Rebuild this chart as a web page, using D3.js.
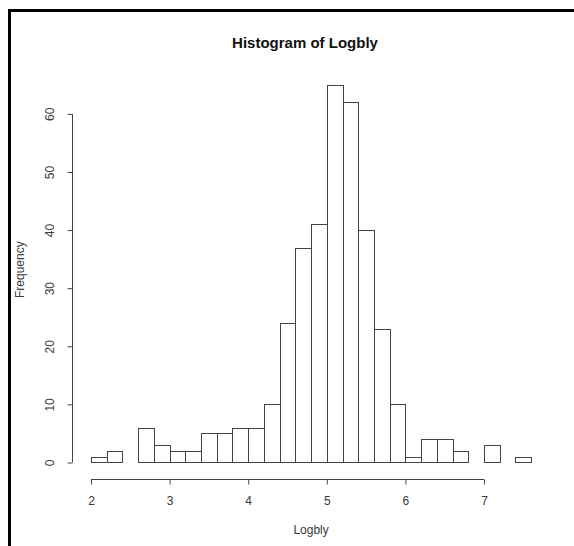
<!DOCTYPE html>
<html>
<head>
<meta charset="utf-8">
<script src="https://cdn.jsdelivr.net/npm/d3@7"></script>
<style>
  html, body { margin: 0; padding: 0; background: #fff; }
  svg { display: block; }
  text { font-family: "Liberation Sans", Arial, Helvetica, sans-serif; }
</style>
</head>
<body>
<svg id="chart" width="574" height="546"></svg>
<script>
// Histogram bin edges (left edges) and bin width
const binStarts = [2.0, 2.2, 2.4, 2.6, 2.8, 3.0, 3.2, 3.4, 3.6, 3.8, 4.0, 4.2, 4.4, 4.6,
                   4.8, 5.0, 5.2, 5.4, 5.6, 5.8, 6.0, 6.2, 6.4, 6.6, 6.8, 7.0, 7.2, 7.4];
const binWidth = 0.2;
const counts = [1, 2, 0, 6, 3, 2, 2, 5, 5, 6, 6, 10, 24, 37,
                41, 65, 62, 40, 23, 10, 1, 4, 4, 2, 0, 3, 0, 1];
const xTicks = [2, 3, 4, 5, 6, 7];
const yTicks = [0, 10, 20, 30, 40, 50, 60];
const titleText = "Histogram of Logbly";
const xLabel = "Logbly";
const yLabel = "Frequency";

const svg = d3.select("#chart");

// Plot region (R style: data range extended by 4%)
const xMin = binStarts[0], xMax = binStarts[binStarts.length - 1] + binWidth;
const xPad = (xMax - xMin) * 0.04;
const yMaxData = d3.max(counts);
const yPad = yMaxData * 0.04;
const plot = { left: 73.4, right: 548.8, top: 69.7, bottom: 477.6 };

const x = d3.scaleLinear().domain([xMin - xPad, xMax + xPad]).range([plot.left, plot.right]);
const y = d3.scaleLinear().domain([-yPad, yMaxData + yPad]).range([plot.bottom, plot.top]);

const lineColor = "#444";
const textColor = "#3a3a3a";

// Outer frame (left and top)
svg.append("rect").attr("x", 8).attr("y", 9).attr("width", 3).attr("height", 546 - 9).attr("fill", "#000");
svg.append("rect").attr("x", 8).attr("y", 9).attr("width", 574 - 8).attr("height", 3).attr("fill", "#000");

// Bars
svg.append("g").selectAll("rect")
  .data(binStarts.map((s, i) => ({ s, c: counts[i] })))
  .join("rect")
  .attr("x", d => Math.round(x(d.s)) + 0.5)
  .attr("y", d => Math.round(y(d.c)) + 0.5)
  .attr("width", d => Math.round(x(d.s + binWidth)) - Math.round(x(d.s)))
  .attr("height", d => Math.round(y(0)) - Math.round(y(d.c)))
  .attr("fill", "none")
  .attr("stroke", lineColor)
  .attr("stroke-width", 1);

// X axis
const xAxisY = Math.round(plot.bottom) + 1.5;
const gx = svg.append("g").attr("transform", `translate(0,${xAxisY})`)
  .call(d3.axisBottom(x).tickValues(xTicks).tickSize(5).tickSizeOuter(0).tickFormat(d3.format("d")));
gx.select(".domain").remove();
gx.append("line")
  .attr("x1", x(xTicks[0])).attr("x2", x(xTicks[xTicks.length - 1]))
  .attr("y1", 0).attr("y2", 0)
  .attr("stroke", lineColor);
gx.selectAll(".tick line").attr("stroke", lineColor);
gx.selectAll(".tick text")
  .attr("y", 501 + 4.3 - xAxisY).attr("dy", 0)
  .attr("fill", textColor)
  .style("font-size", "12px")
  .style("font-family", "'Liberation Sans', Arial, sans-serif");

// Y axis
const yAxisX = 72.5;
const gy = svg.append("g").attr("transform", `translate(${yAxisX},0)`)
  .call(d3.axisLeft(y).tickValues(yTicks).tickSize(5).tickSizeOuter(0).tickFormat(d3.format("d")));
gy.select(".domain").remove();
gy.append("line")
  .attr("x1", 0).attr("x2", 0)
  .attr("y1", y(yTicks[0])).attr("y2", y(yTicks[yTicks.length - 1]))
  .attr("stroke", lineColor);
gy.selectAll(".tick line").attr("stroke", lineColor);
gy.selectAll(".tick text")
  .attr("x", 0).attr("dy", 0)
  .attr("text-anchor", "middle")
  .attr("transform", `translate(${54.3 - yAxisX},0) rotate(-90)`)
  .attr("fill", textColor)
  .style("font-size", "12px")
  .style("font-family", "'Liberation Sans', Arial, sans-serif");

// Title
const cx = (plot.left + plot.right) / 2;
svg.append("text")
  .attr("x", 305).attr("y", 48.4)
  .attr("text-anchor", "middle")
  .attr("font-weight", "bold")
  .attr("font-size", "15px")
  .attr("fill", "#111")
  .text(titleText);

// X label
svg.append("text")
  .attr("x", cx).attr("y", 534.3)
  .attr("text-anchor", "middle")
  .attr("font-size", "12px")
  .attr("fill", textColor)
  .text(xLabel);

// Y label
const cy = (plot.top + plot.bottom) / 2;
svg.append("text")
  .attr("transform", `translate(23.5,${cy - 4}) rotate(-90)`)
  .attr("text-anchor", "middle")
  .attr("font-size", "12px")
  .attr("fill", textColor)
  .text(yLabel);
</script>
</body>
</html>
